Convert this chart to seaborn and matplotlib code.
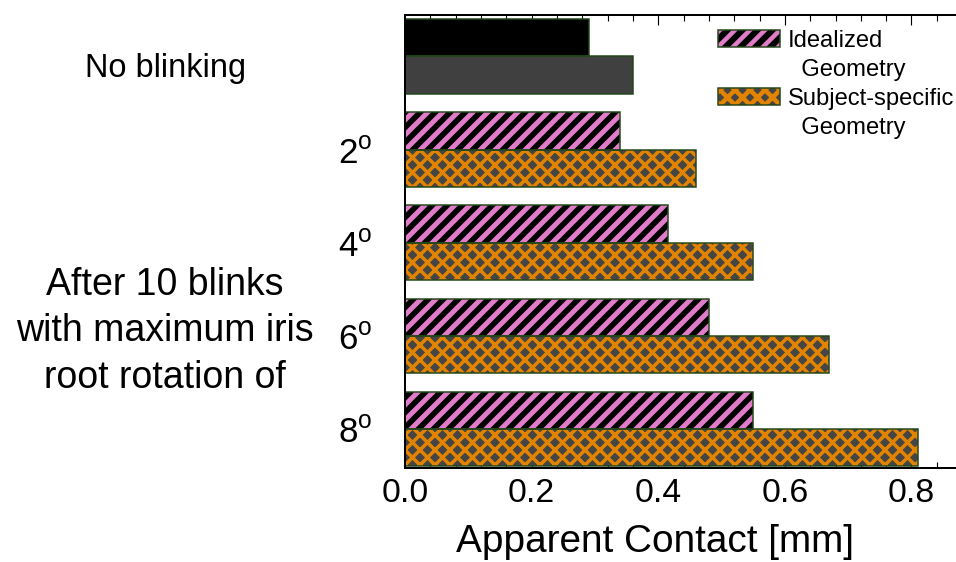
import matplotlib
matplotlib.use("Agg")
import matplotlib.pyplot as plt
from matplotlib.patches import Patch, Rectangle
from matplotlib.ticker import MultipleLocator
import pandas as pd
import seaborn as sns

# ---- data -------------------------------------------------------------
groups = ["No blinking", "2", "4", "6", "8"]
idealized = [0.29, 0.34, 0.415, 0.48, 0.55]
subject_specific = [0.36, 0.46, 0.55, 0.67, 0.81]
series_names = ["Idealized", "Subject-specific"]
ytick_labels = ["", r"2$^\mathregular{o}$", r"4$^\mathregular{o}$",
                r"6$^\mathregular{o}$", r"8$^\mathregular{o}$"]
xtick_values = [0.0, 0.2, 0.4, 0.6, 0.8]
xtick_labels = ["0.0", "0.2", "0.4", "0.6", "0.8"]
xlabel = "Apparent Contact [mm]"
left_top_text = "No blinking"
left_mid_text = "After 10 blinks\nwith maximum iris\nroot rotation of"

# ---- styling ----------------------------------------------------------
sns.set_theme(style="ticks")
plt.rcParams["font.family"] = ["Liberation Sans", "DejaVu Sans"]
plt.rcParams["mathtext.fontset"] = "custom"
plt.rcParams["mathtext.rm"] = "Liberation Sans"
for key in ("text.color", "axes.labelcolor", "xtick.color", "ytick.color",
            "axes.edgecolor"):
    plt.rcParams[key] = "black"
plt.rcParams["hatch.linewidth"] = 3.6

PINK = "#e07cc8"
ORANGE = "#e38400"
EDGE = "#22461a"
DARK = "#454545"
GRAY = "#404040"
PINK_LW = 4.0
ORANGE_LW = 2.8

DPI = 90
fig = plt.figure(figsize=(956.4 / DPI, 562.4 / DPI), dpi=DPI)
W, H = 956, 562
ax = fig.add_axes([405 / W, 1 - 468 / H, (956 - 405) / W, 453 / H])

df = pd.DataFrame({
    "group": groups * 2,
    "contact": idealized + subject_specific,
    "series": [series_names[0]] * len(groups) + [series_names[1]] * len(groups),
})

sns.barplot(data=df, x="contact", y="group", hue="series", order=groups,
            hue_order=series_names, orient="h", dodge=True, width=0.8,
            errorbar=None, legend=False, saturation=1, ax=ax)


def set_hatch_width(p, lw):
    if hasattr(p, "set_hatch_linewidth"):
        p.set_hatch_linewidth(lw)
    elif hasattr(p, "_hatch_linewidth"):
        p._hatch_linewidth = lw


def style_bar(p, face, hatch=None, hatch_color=None, hatch_lw=None):
    p.set_facecolor(face)
    p.set_hatch(hatch)
    p.set_edgecolor(hatch_color if hatch_color else face)
    p.set_linewidth(0)
    if hatch_lw is not None:
        set_hatch_width(p, hatch_lw)
    outline = Rectangle((p.get_x(), p.get_y()), p.get_width(), p.get_height(),
                        fill=False, edgecolor=EDGE, linewidth=1.2,
                        zorder=p.get_zorder() + 0.1)
    ax.add_patch(outline)


for i, p in enumerate(ax.containers[0]):
    if i == 0:
        style_bar(p, "black")
    else:
        style_bar(p, "black", "//", PINK, PINK_LW)
for i, p in enumerate(ax.containers[1]):
    if i == 0:
        style_bar(p, GRAY)
    else:
        style_bar(p, DARK, "xx", ORANGE, ORANGE_LW)

# ---- axes -------------------------------------------------------------
ax.set_xlim(0, 0.871)
ax.set_ylim(4.42, -0.45)
ax.set_yticks(range(len(groups)))
ax.set_yticklabels(ytick_labels)
ax.set_ylabel("")
ax.xaxis.set_minor_locator(MultipleLocator(0.04))
ax.set_xticks(xtick_values)
ax.set_xticklabels(xtick_labels)
ax.tick_params(axis="x", which="both", direction="in", top=True, bottom=True,
               labelsize=27, width=0.9, color="black", pad=8)
ax.tick_params(axis="x", which="major", length=8)
ax.tick_params(axis="x", which="minor", length=5)
ax.tick_params(axis="y", length=0, labelsize=28, pad=26)
ax.spines["right"].set_visible(False)
for s in ("left", "top", "bottom"):
    ax.spines[s].set_linewidth(1.6)

ax.set_xlabel(xlabel, fontsize=31)
ax.xaxis.set_label_coords((655 - 405) / (956 - 405), -0.122)

fig.text(165 / W, 1 - 68 / H, left_top_text, fontsize=26,
         ha="center", va="center")
fig.text(165 / W, 1 - 331 / H, left_mid_text, fontsize=30,
         ha="center", va="center", linespacing=1.37)

# ---- legend -----------------------------------------------------------
def legend_handle(face, hatch, color, lw):
    h = Patch(facecolor=face, edgecolor=color, hatch=hatch, linewidth=0)
    set_hatch_width(h, lw)
    o = Patch(facecolor="none", edgecolor=EDGE, linewidth=1.2)
    return (h, o)


blank = Patch(visible=False)
handles = [legend_handle("black", "//", PINK, PINK_LW), blank,
           legend_handle(DARK, "xx", ORANGE, ORANGE_LW), blank]
labels = [series_names[0], "  Geometry", series_names[1], "  Geometry"]
fig.legend(handles, labels, loc="upper left",
           bbox_to_anchor=(718 / W, 1 - 30 / H), frameon=False,
           fontsize=19, handlelength=2.6, handleheight=0.72,
           handletextpad=0.34, labelspacing=0.3, borderpad=0,
           borderaxespad=0)

fig.savefig("out.png", dpi=DPI)
